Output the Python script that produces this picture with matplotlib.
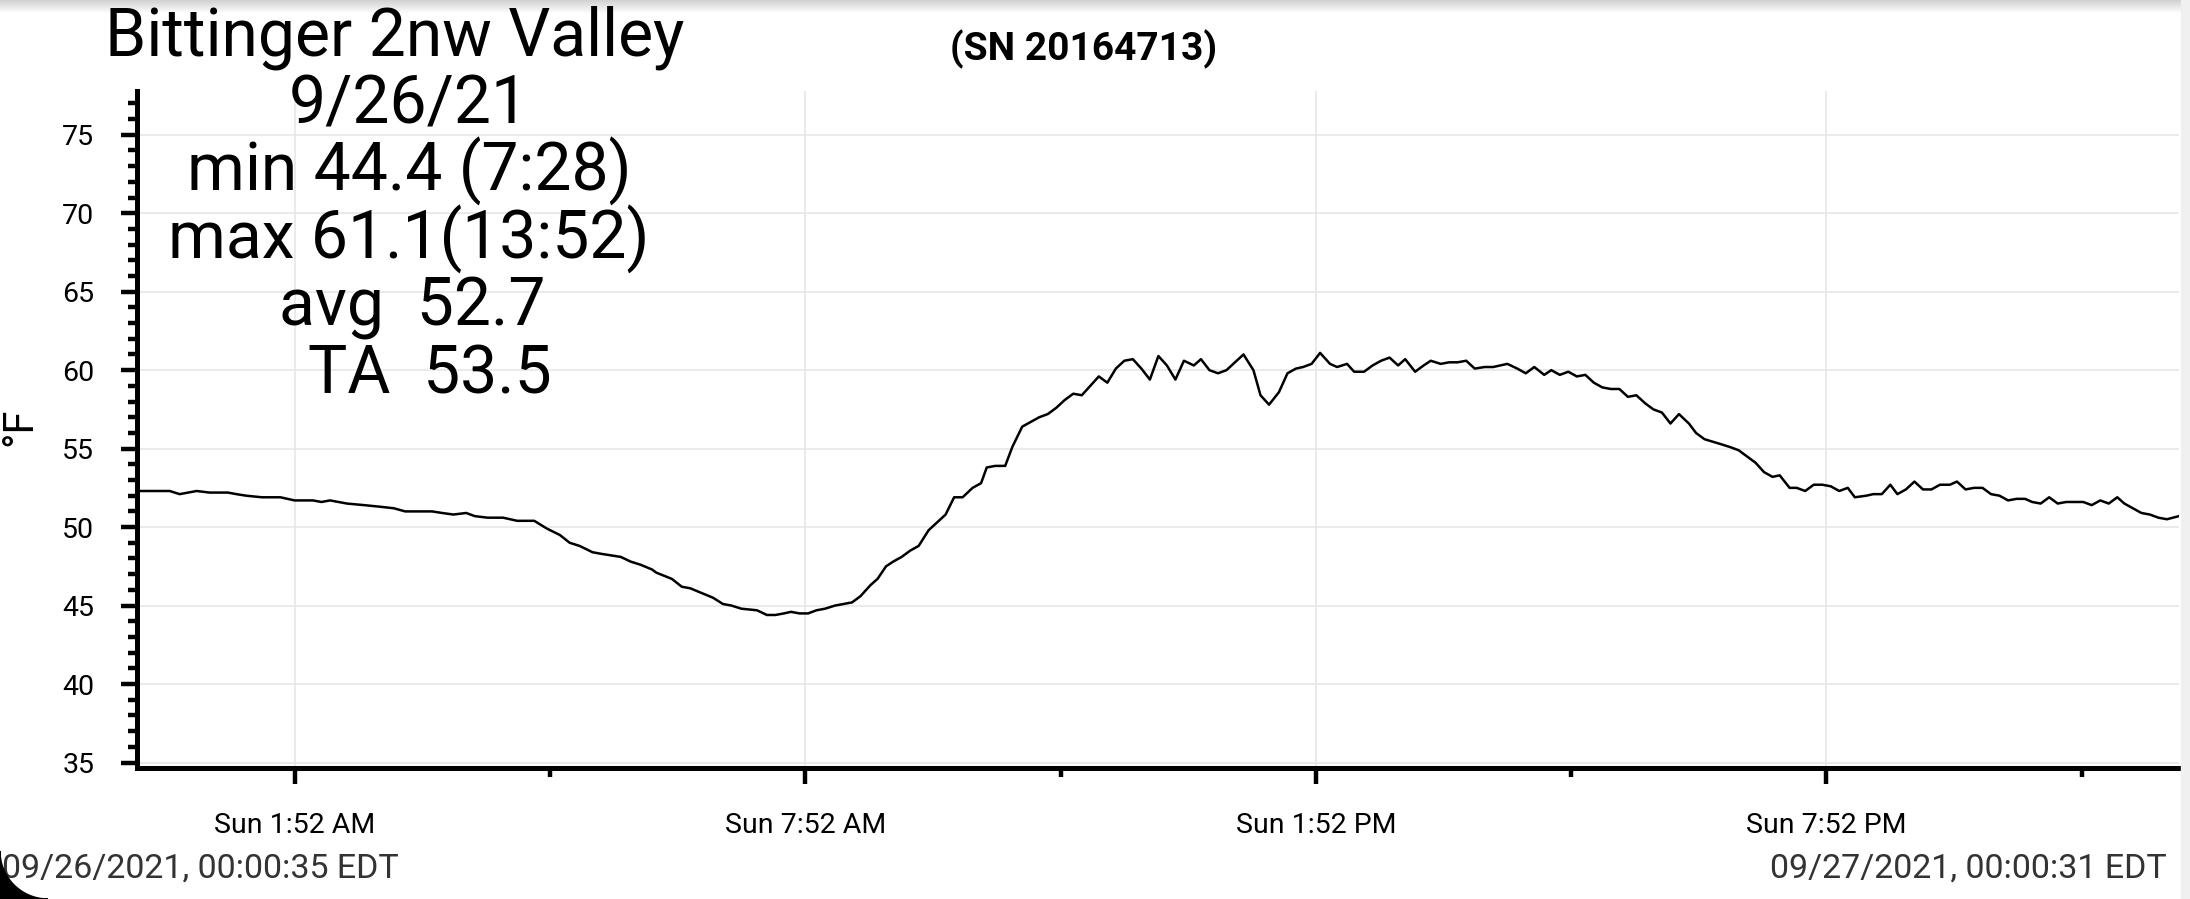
import matplotlib
matplotlib.use("Agg")
import matplotlib.pyplot as plt
import matplotlib.dates as mdates
from matplotlib.ticker import FixedLocator, MultipleLocator
from matplotlib.patches import Polygon, Rectangle
import numpy as np
import pandas as pd

plt.rcParams['font.family'] = ['Roboto', 'DejaVu Sans']

# readings (time of day, deg F)
times = [
    "00:00:35", "00:24", "00:31", "00:43", "00:52", "01:05", "01:11", "01:18", "01:29", "01:42",
    "01:52", "02:05", "02:11", "02:17", "02:29", "02:41", "02:52", "03:02", "03:10", "03:18",
    "03:29", "03:36", "03:44", "03:53", "03:59", "04:08", "04:19", "04:29", "04:41", "04:50",
    "04:59", "05:06", "05:13", "05:22", "05:28", "05:35", "05:42", "05:49", "05:56", "06:04",
    "06:07", "06:18", "06:25", "06:31", "06:47", "06:54", "07:00", "07:07", "07:18", "07:25",
    "07:31", "07:37", "07:42", "07:48", "07:54", "08:00", "08:06", "08:13", "08:19", "08:25",
    "08:31", "08:38", "08:43", "08:49", "08:54", "09:00", "09:06", "09:12", "09:19", "09:25",
    "09:31", "09:37", "09:43", "09:50", "09:56", "10:00", "10:06", "10:13", "10:18", "10:25",
    "10:31", "10:37", "10:43", "10:49", "10:55", "11:01", "11:07", "11:14", "11:19", "11:25",
    "11:31", "11:37", "11:43", "11:49", "11:55", "12:01", "12:07", "12:13", "12:19", "12:26",
    "12:31", "12:37", "12:43", "12:49", "12:55", "13:01", "13:08", "13:13", "13:19", "13:26",
    "13:32", "13:38", "13:43", "13:49", "13:55", "14:02", "14:07", "14:14", "14:19", "14:26",
    "14:32", "14:38", "14:44", "14:50", "14:55", "15:02", "15:08", "15:13", "15:20", "15:26",
    "15:32", "15:38", "15:44", "15:51", "15:57", "16:07", "16:14", "16:20", "16:26", "16:33",
    "16:38", "16:44", "16:50", "16:56", "17:02", "17:08", "17:14", "17:20", "17:26", "17:32",
    "17:38", "17:44", "17:50", "17:56", "18:02", "18:08", "18:15", "18:20", "18:26", "18:37",
    "18:44", "18:50", "18:56", "19:02", "19:08", "19:14", "19:19", "19:26", "19:31", "19:37",
    "19:43", "19:49", "19:55", "20:01", "20:07", "20:12", "20:20", "20:25", "20:31", "20:37",
    "20:42", "20:48", "20:54", "21:00", "21:06", "21:12", "21:19", "21:24", "21:30", "21:36",
    "21:42", "21:48", "21:54", "22:00", "22:06", "22:12", "22:17", "22:23", "22:29", "22:35",
    "22:41", "22:53", "22:59", "23:05", "23:11", "23:17", "23:22", "23:28", "23:34", "23:40",
    "23:46", "23:52", "24:00:31",
]
temps = [
    52.3, 52.3, 52.1, 52.3, 52.2, 52.2, 52.1, 52.0, 51.9, 51.9,
    51.7, 51.7, 51.6, 51.7, 51.5, 51.4, 51.3, 51.2, 51.0, 51.0,
    51.0, 50.9, 50.8, 50.9, 50.7, 50.6, 50.6, 50.4, 50.4, 49.9,
    49.5, 49.0, 48.8, 48.4, 48.3, 48.2, 48.1, 47.8, 47.6, 47.3,
    47.1, 46.7, 46.2, 46.1, 45.5, 45.1, 45.0, 44.8, 44.7, 44.4,
    44.4, 44.5, 44.6, 44.5, 44.5, 44.7, 44.8, 45.0, 45.1, 45.2,
    45.6, 46.3, 46.7, 47.5, 47.8, 48.1, 48.5, 48.8, 49.8, 50.3,
    50.8, 51.9, 51.9, 52.5, 52.8, 53.8, 53.9, 53.9, 55.1, 56.4,
    56.7, 57.0, 57.2, 57.6, 58.1, 58.5, 58.4, 59.1, 59.6, 59.2,
    60.1, 60.6, 60.7, 60.1, 59.4, 60.9, 60.3, 59.4, 60.6, 60.3,
    60.7, 60.0, 59.8, 60.0, 60.5, 61.0, 60.0, 58.4, 57.8, 58.6,
    59.8, 60.1, 60.2, 60.4, 61.1, 60.4, 60.2, 60.4, 59.9, 59.9,
    60.3, 60.6, 60.8, 60.3, 60.7, 59.9, 60.3, 60.6, 60.4, 60.5,
    60.5, 60.6, 60.1, 60.2, 60.2, 60.4, 60.1, 59.8, 60.2, 59.7,
    60.0, 59.7, 59.9, 59.6, 59.7, 59.2, 58.9, 58.8, 58.8, 58.3,
    58.4, 57.9, 57.5, 57.3, 56.6, 57.2, 56.6, 56.0, 55.6, 55.3,
    55.1, 54.9, 54.5, 54.1, 53.5, 53.2, 53.3, 52.5, 52.5, 52.3,
    52.7, 52.7, 52.6, 52.3, 52.5, 51.9, 52.0, 52.1, 52.1, 52.7,
    52.1, 52.4, 52.9, 52.4, 52.4, 52.7, 52.7, 52.9, 52.4, 52.5,
    52.5, 52.1, 52.0, 51.7, 51.8, 51.8, 51.6, 51.5, 51.9, 51.5,
    51.6, 51.6, 51.4, 51.7, 51.5, 51.9, 51.5, 51.2, 50.9, 50.8,
    50.6, 50.5, 50.7,
]

major_times = ["01:52", "07:52", "13:52", "19:52"]
major_labels = ["Sun 1:52 AM", "Sun 7:52 AM", "Sun 1:52 PM", "Sun 7:52 PM"]
minor_times = ["04:52", "10:52", "16:52", "22:52"]
y_major = [35, 40, 45, 50, 55, 60, 65, 70, 75]

header = ["Bittinger 2nw Valley", "9/26/21", "min 44.4 (7:28)",
          "max 61.1(13:52)", "avg  52.7", "TA  53.5"]
serial = "(SN 20164713)"
start_label = "09/26/2021, 00:00:35 EDT"
end_label = "09/27/2021, 00:00:31 EDT"

day = pd.Timestamp("2021-09-26")


def to_dt(ts):
    out = []
    for t in ts:
        p = [int(v) for v in t.split(":")] + [0]
        out.append(day + pd.Timedelta(hours=p[0], minutes=p[1], seconds=p[2]))
    return out


x = to_dt(times)

W, H = 2190, 899
fig = plt.figure(figsize=(W / 100, H / 100), dpi=100)
fig.patch.set_facecolor("white")

ax = fig.add_axes([136.5 / W, 1 - 768 / H, (2179 - 136.5) / W, (768 - 90.8) / H])
ax.plot(x, temps, color="black", lw=1.8, zorder=3)

ax.set_xlim(x[0], x[-1])
ax.set_ylim(34.65, 77.8)

ax.xaxis.set_major_locator(FixedLocator(mdates.date2num(to_dt(major_times))))
ax.xaxis.set_minor_locator(FixedLocator(mdates.date2num(to_dt(minor_times))))
ax.set_xticklabels(major_labels)
ax.set_yticks(y_major)
ax.yaxis.set_minor_locator(MultipleLocator(1))

ax.grid(which="major", color="#e6e6e6", lw=1.2)
ax.set_axisbelow(True)
for s in ["top", "right"]:
    ax.spines[s].set_visible(False)
for s in ["left", "bottom"]:
    ax.spines[s].set_linewidth(3.6)

ax.tick_params(which="major", length=11.5, width=3.2, labelsize=20.5, color="black")
ax.tick_params(which="minor", length=6.5, width=3.2, color="black")
ax.tick_params(axis="y", which="major", pad=19)
ax.tick_params(axis="x", which="major", pad=20)


def ftext(px, py, s, **kw):
    fig.text(px / W, 1 - py / H, s, **kw)


ftext(19.5, 427, "°F", rotation=90, fontsize=30, ha="center", va="center")

header_x = [395, 409, 409, 409, 412, 430]
for i, line in enumerate(header):
    ftext(header_x[i], 56 + 67.5 * i, line, fontsize=47.5, ha="center", va="baseline")

ftext(1084, 60, serial, fontsize=28, fontweight="bold", ha="center", va="baseline")
ftext(2, 878, start_label, fontsize=24.5, color="#333333", ha="left", va="baseline")
ftext(2167, 878, end_label, fontsize=24.5, color="#333333", ha="right", va="baseline")

# screenshot edges: top shadow, right strip, rounded black corner
top = fig.add_axes([0, 1 - 14 / H, 1, 14 / H])
grad = np.linspace(0.82, 1.0, 14).reshape(-1, 1)
top.imshow(grad, cmap="gray", vmin=0, vmax=1, aspect="auto", extent=[0, 1, 0, 1])
top.axis("off")
fig.patches.append(Rectangle((2181 / W, 0), 9 / W, 1, transform=fig.transFigure,
                             color="#f0f0f0", zorder=0))
R = 48
ang = np.linspace(-np.pi / 2, -np.pi, 30)
pts = [(0, 0), (R, 0)] + [(R + R * np.cos(a), R + R * np.sin(a)) for a in ang] + [(0, R)]
pts = [(px / W, py / H) for px, py in pts]
fig.patches.append(Polygon(pts, closed=True, transform=fig.transFigure,
                           color="black", zorder=10))

fig.savefig("out.png", dpi=100)
